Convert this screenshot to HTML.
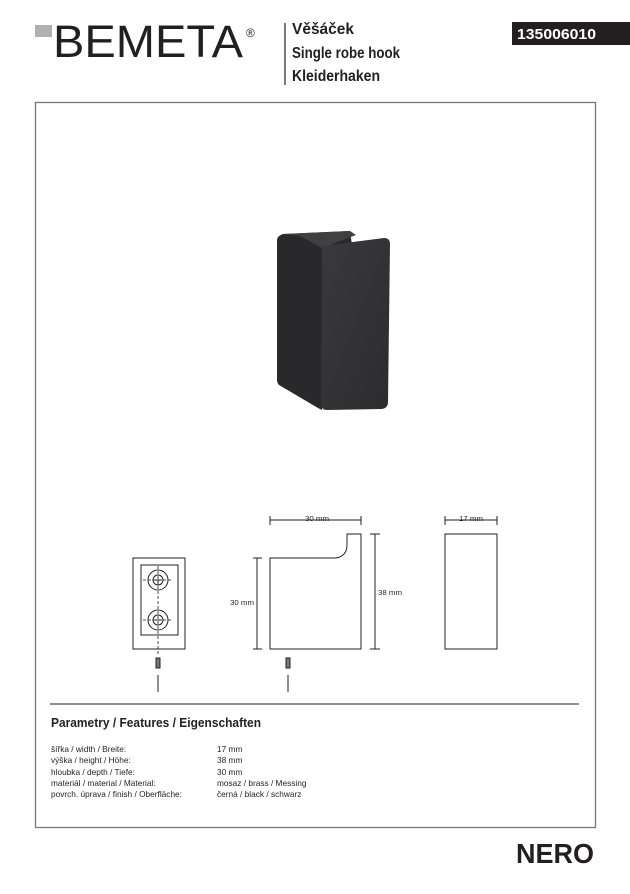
<!DOCTYPE html>
<html><head><meta charset="utf-8">
<style>
html,body{margin:0;padding:0;background:#fff;}
body{width:630px;height:894px;overflow:hidden;position:relative;}
svg{position:absolute;left:0;top:0;}
.n{font-family:"Liberation Sans Narrow","Liberation Sans",sans-serif;}
</style></head><body>
<svg width="630" height="894" viewBox="0 0 630 894" xmlns="http://www.w3.org/2000/svg">
<defs>
<linearGradient id="fg" x1="0" y1="0" x2="1" y2="1">
<stop offset="0" stop-color="#3a3a3d"/><stop offset="1" stop-color="#2c2c2f"/>
</linearGradient>
</defs>
<!-- header -->
<rect x="35" y="25" width="17" height="12" fill="#b0b0b2"/>
<text x="53" y="57" font-family="Liberation Sans, sans-serif" font-size="45" fill="#231f20" textLength="190" lengthAdjust="spacingAndGlyphs">BEMETA</text>
<text x="246" y="37" font-family="Liberation Sans, sans-serif" font-size="12" fill="#231f20">®</text>
<line x1="285" y1="23" x2="285" y2="85" stroke="#231f20" stroke-width="1.2"/>
<g class="n" font-weight="bold" font-size="16" fill="#231f20">
<text x="292" y="34" textLength="62" lengthAdjust="spacingAndGlyphs">Věšáček</text>
<text x="292" y="58" textLength="108" lengthAdjust="spacingAndGlyphs">Single robe hook</text>
<text x="292" y="81" textLength="88" lengthAdjust="spacingAndGlyphs">Kleiderhaken</text>
</g>
<rect x="512" y="22" width="118" height="23" fill="#231f20"/>
<text x="517" y="39" class="n" font-weight="bold" font-size="15" fill="#fff" textLength="79" lengthAdjust="spacingAndGlyphs">135006010</text>

<!-- frame -->
<rect x="35.5" y="102.5" width="560" height="725" fill="none" stroke="#777" stroke-width="1.3"/>

<!-- product -->
<path d="M277,240 Q277,236 283,234 L350,231 L352,245 L322,248 L322,410 L318,408 L279,385 Q277,383 277,380 Z" fill="#29292b"/>
<polygon points="283,234 350,231 356,235 322,248 300,236" fill="#404043"/>
<path d="M322,246 L384,238 Q390,238 390,244 L388,402 Q388,408 382,409 L327,410 Q321,410 321,404 Z" fill="url(#fg)"/>

<!-- front plate view -->
<g stroke="#231f20" fill="none" stroke-width="1">
<rect x="133" y="558" width="52" height="91"/>
<rect x="141" y="565" width="37" height="70"/>
<circle cx="158" cy="580" r="10"/>
<circle cx="158" cy="580" r="5"/>
<circle cx="158" cy="620" r="10"/>
<circle cx="158" cy="620" r="5"/>
<line x1="154" y1="580" x2="162" y2="580"/><line x1="158" y1="580" x2="158" y2="585"/>
<line x1="154" y1="620" x2="162" y2="620"/>
<g stroke-dasharray="3,2" stroke-width="0.8">
<line x1="143" y1="580" x2="173" y2="580"/>
<line x1="143" y1="620" x2="173" y2="620"/>
<line x1="158" y1="566" x2="158" y2="656"/>
</g>
<rect x="156" y="658" width="4" height="10" fill="#777"/>
<line x1="158" y1="675" x2="158" y2="692"/>
<line x1="288" y1="675" x2="288" y2="692"/>
<rect x="286" y="658" width="4" height="10" fill="#777"/>

<!-- side view -->
<path d="M270,558 L336,558 Q347,556 347,545 L347,534 L361,534 L361,649 L270,649 Z"/>
<line x1="270" y1="516" x2="270" y2="525"/><line x1="361" y1="516" x2="361" y2="525"/>
<line x1="270" y1="520" x2="361" y2="520"/>
<line x1="257" y1="558" x2="257" y2="649"/>
<line x1="253" y1="558" x2="262" y2="558"/><line x1="253" y1="649" x2="262" y2="649"/>
<line x1="375" y1="534" x2="375" y2="649"/>
<line x1="370" y1="534" x2="380" y2="534"/><line x1="370" y1="649" x2="380" y2="649"/>

<!-- end view -->
<rect x="445" y="534" width="52" height="115"/>
<line x1="445" y1="516" x2="445" y2="525"/><line x1="497" y1="516" x2="497" y2="525"/>
<line x1="445" y1="520" x2="497" y2="520"/>
</g>
<g font-family="Liberation Sans, sans-serif" font-size="7.5" fill="#231f20">
<text x="305" y="521" textLength="24" lengthAdjust="spacingAndGlyphs">30 mm</text>
<text x="230" y="605" textLength="24" lengthAdjust="spacingAndGlyphs">30 mm</text>
<text x="378" y="595" textLength="24" lengthAdjust="spacingAndGlyphs">38 mm</text>
<text x="459" y="521" textLength="24" lengthAdjust="spacingAndGlyphs">17 mm</text>
</g>

<!-- features -->
<line x1="50" y1="704" x2="579" y2="704" stroke="#231f20" stroke-width="1"/>
<text x="51" y="727" class="n" font-weight="bold" font-size="12.5" fill="#231f20" textLength="210" lengthAdjust="spacingAndGlyphs">Parametry / Features / Eigenschaften</text>
<g font-family="Liberation Sans, sans-serif" font-size="8.3" fill="#231f20">
<text x="51" y="752">šířka / width / Breite:</text>
<text x="51" y="763">výška / height / Höhe:</text>
<text x="51" y="775">hloubka / depth / Tiefe:</text>
<text x="51" y="786">materiál / material / Material:</text>
<text x="51" y="797">povrch. úprava / finish / Oberfläche:</text>
<text x="217" y="752">17 mm</text>
<text x="217" y="763">38 mm</text>
<text x="217" y="775">30 mm</text>
<text x="217" y="786">mosaz / brass / Messing</text>
<text x="217" y="797">černá / black / schwarz</text>
</g>
<text x="516" y="863" class="n" font-weight="bold" font-size="28" fill="#231f20" textLength="78" lengthAdjust="spacingAndGlyphs">NERO</text>
</svg>
</body></html>
